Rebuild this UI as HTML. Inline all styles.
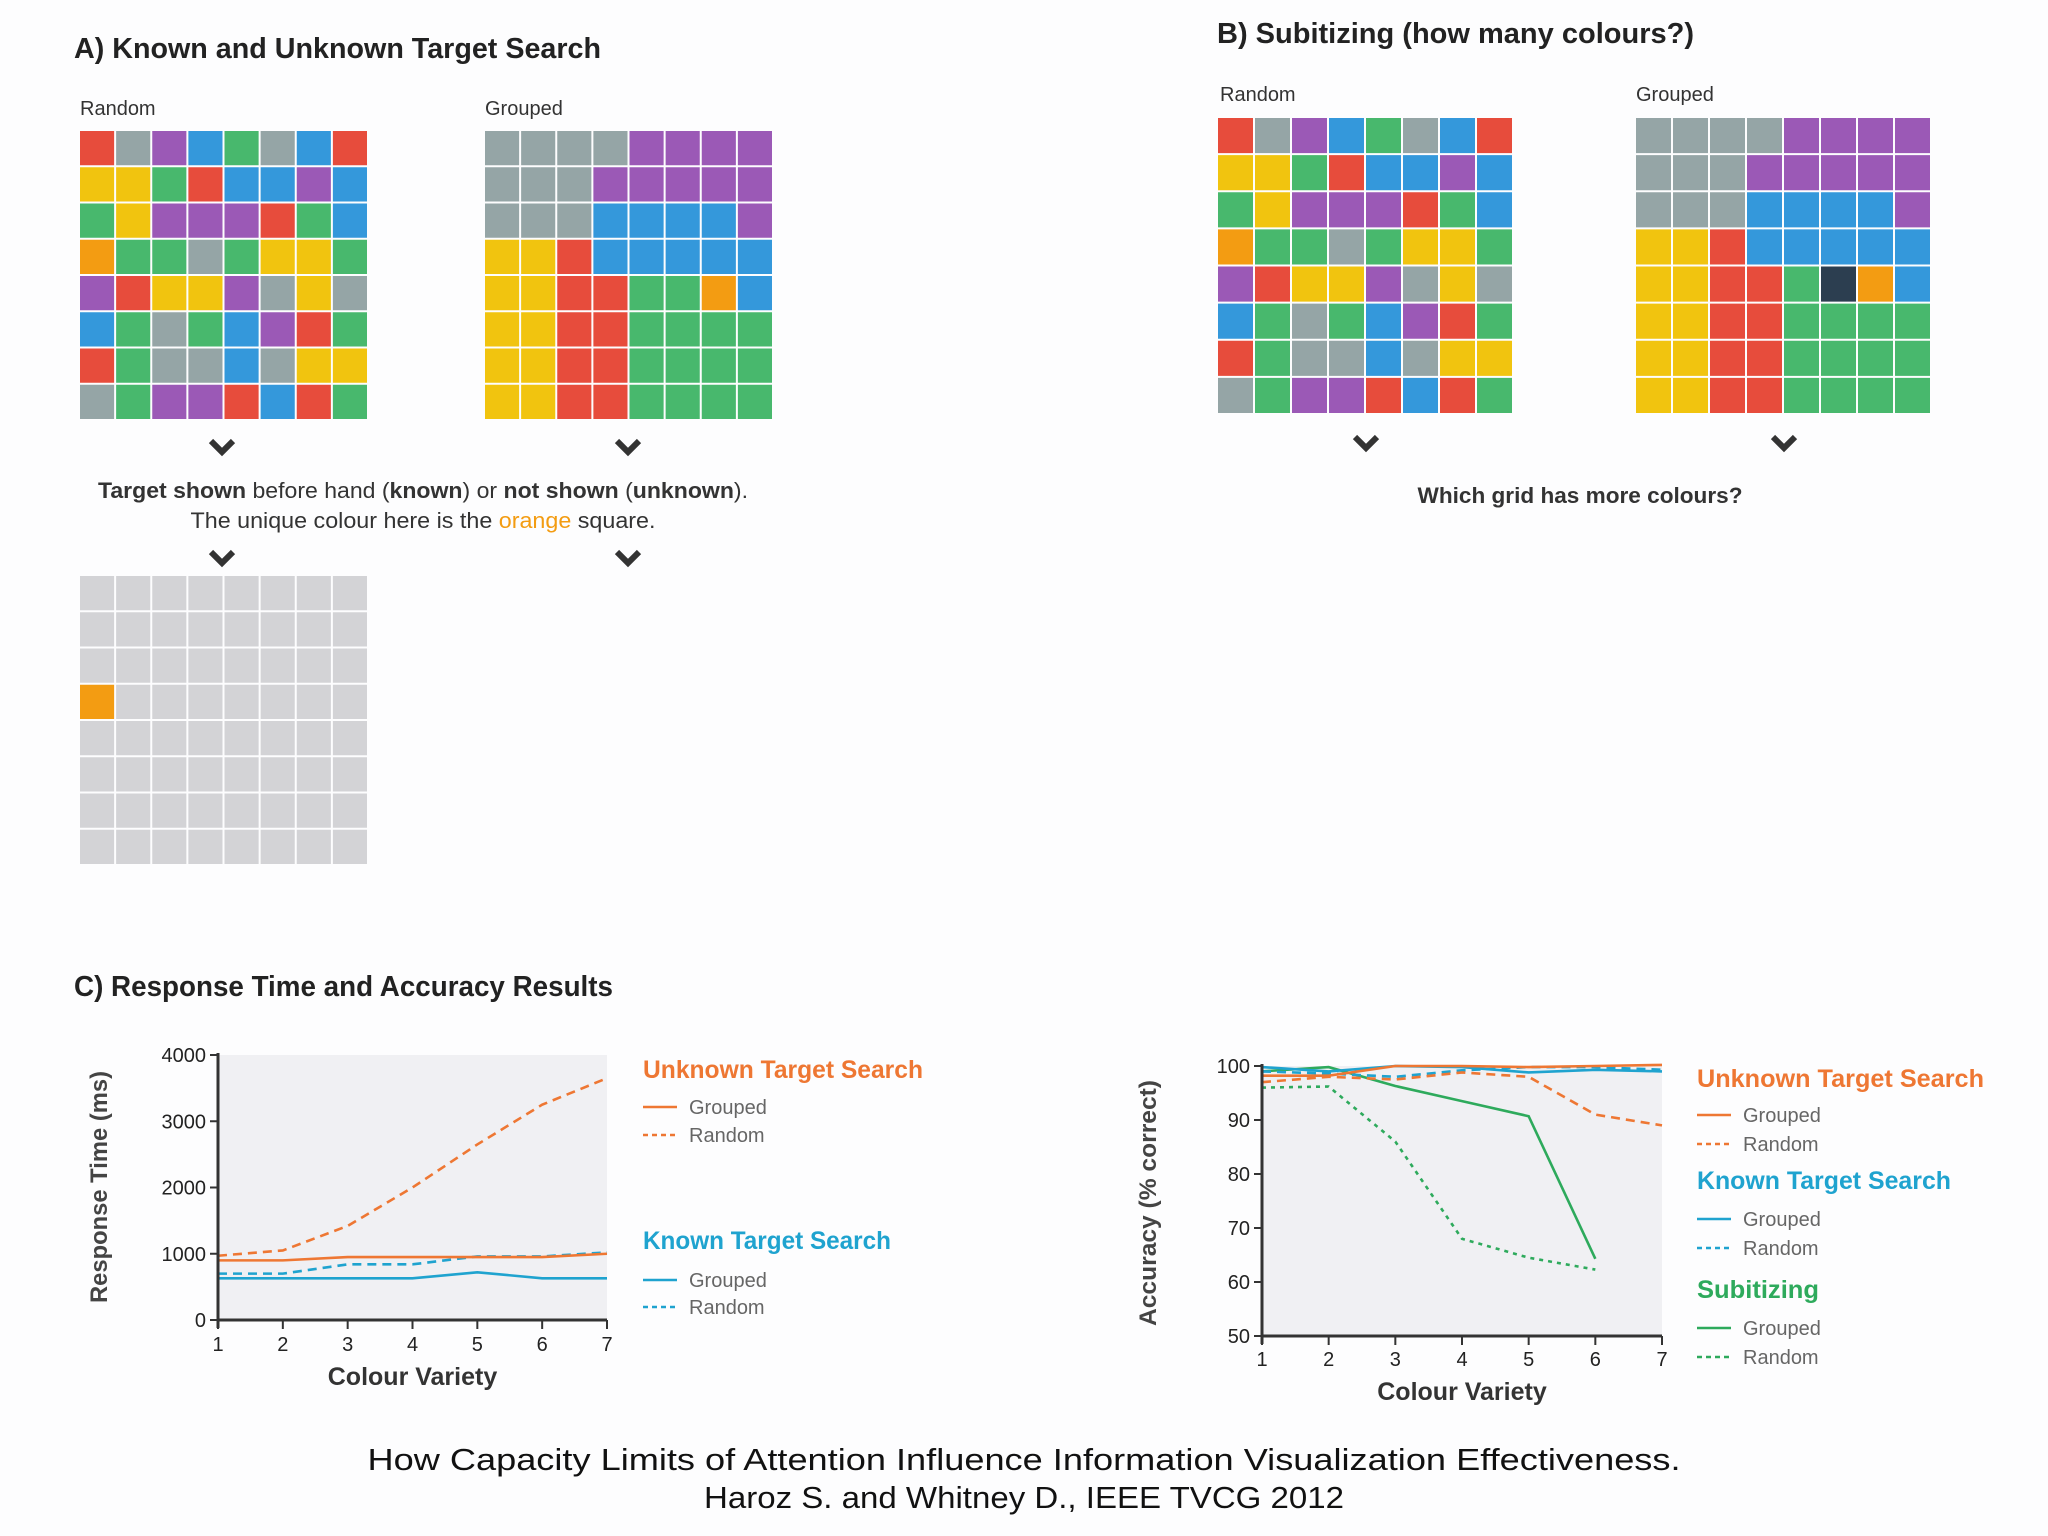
<!DOCTYPE html>
<html><head><meta charset="utf-8">
<style>
html,body{margin:0;padding:0;background:#fff;}
svg{display:block;font-family:"Liberation Sans",sans-serif;}
</style></head>
<body>
<svg id="root" width="2048" height="1536" viewBox="0 0 2048 1536" xmlns="http://www.w3.org/2000/svg">
<rect x="0" y="0" width="2048" height="1536" fill="#fdfdfe"/>
<text x="74" y="58" font-size="29" font-weight="bold" fill="#222" textLength="527" lengthAdjust="spacingAndGlyphs">A) Known and Unknown Target Search</text>
<text x="80" y="115" font-size="20" fill="#333">Random</text>
<text x="485" y="115" font-size="20" fill="#333">Grouped</text>
<g id="gridArand"></g>
<g id="gridAgrp"></g>
<g id="gridGray"></g>
<text x="423" y="498" font-size="22" fill="#333" text-anchor="middle" textLength="650" lengthAdjust="spacingAndGlyphs"><tspan font-weight="bold">Target shown</tspan> before hand (<tspan font-weight="bold">known</tspan>) or <tspan font-weight="bold">not shown</tspan> (<tspan font-weight="bold">unknown</tspan>).</text>
<text x="423" y="528" font-size="22" fill="#333" text-anchor="middle" textLength="465" lengthAdjust="spacingAndGlyphs">The unique colour here is the <tspan fill="#f39c12">orange</tspan> square.</text>
<text x="1217" y="43" font-size="29" font-weight="bold" fill="#222" textLength="477" lengthAdjust="spacingAndGlyphs">B) Subitizing (how many colours?)</text>
<text x="1220" y="101" font-size="20" fill="#333">Random</text>
<text x="1636" y="101" font-size="20" fill="#333">Grouped</text>
<g id="gridBrand"></g>
<g id="gridBgrp"></g>
<text x="1580" y="503" font-size="22" font-weight="bold" fill="#333" text-anchor="middle" textLength="325" lengthAdjust="spacingAndGlyphs">Which grid has more colours?</text>
<g id="chevrons"></g>
<text x="74" y="996" font-size="29" font-weight="bold" fill="#222" textLength="539" lengthAdjust="spacingAndGlyphs">C) Response Time and Accuracy Results</text>
<g id="chart1"></g>
<g id="chart2"></g>
<g id="legends"></g>
<text x="1024" y="1470" font-size="31" fill="#111" text-anchor="middle" textLength="1313" lengthAdjust="spacingAndGlyphs">How Capacity Limits of Attention Influence Information Visualization Effectiveness.</text>
<text x="1024" y="1508" font-size="31" fill="#111" text-anchor="middle" textLength="640" lengthAdjust="spacingAndGlyphs">Haroz S. and Whitney D., IEEE TVCG 2012</text>
</svg>
<script>
const NS="http://www.w3.org/2000/svg";
// ---- data ----
const gridRandom=["RGPBNGBR","YYNRBBPB","NYPPPRNB","ONNGNYYN","PRYYPGYG","BNGNBPRN","RNGGBGYY","GNPPRBRN"];
const gridGroupedA=["GGGGPPPP","GGGPPPPP","GGGBBBBP","YYRBBBBB","YYRRNNOB","YYRRNNNN","YYRRNNNN","YYRRNNNN"];
const gridGroupedB=["GGGGPPPP","GGGPPPPP","GGGBBBBP","YYRBBBBB","YYRRNDOB","YYRRNNNN","YYRRNNNN","YYRRNNNN"];
const gridGrayTarget=["LLLLLLLL","LLLLLLLL","LLLLLLLL","OLLLLLLL","LLLLLLLL","LLLLLLLL","LLLLLLLL","LLLLLLLL"];
const xCats=[1,2,3,4,5,6,7];
const rtTicks=[0,1000,2000,3000,4000];
const rtUnknownGrouped=[900,900,950,950,950,950,1000];
const rtUnknownRandom=[970,1050,1420,2000,2650,3250,3650];
const rtKnownGrouped=[630,630,630,630,720,630,630];
const rtKnownRandom=[700,700,840,840,960,960,1020];
const accTicks=[50,60,70,80,90,100];
const accUnknownGrouped=[98.2,98.2,100,100,99.8,100,100.2];
const accUnknownRandom=[97,98,97.5,98.8,98,91,89];
const accKnownGrouped=[99.8,99,100,99.8,98.8,99.3,99];
const accKnownRandom=[99,98.6,98,99.2,99.8,99.8,99.3];
const accSubGrouped=[99,99.8,96.3,93.5,90.7,64.3];
const accSubRandom=[96,96.2,86,68,64.5,62.3];
const COL={R:"#e74c3c",G:"#95a5a6",P:"#9b59b6",B:"#3498db",N:"#48b86d",Y:"#f1c40f",O:"#f39c12",D:"#2c3e50",L:"#d3d3d6"};
function el(t,a,p){const e=document.createElementNS(NS,t);for(const k in a)e.setAttribute(k,a[k]);(p||document.getElementById('root')).appendChild(e);return e;}
function grid(id,rows,x0,y0,w,h){const g=document.getElementById(id);const cw=w/8,ch=h/8;
 rows.forEach((r,i)=>{[...r].forEach((c,j)=>{const e=el('rect',{x:x0+j*cw,y:y0+i*ch,width:cw-2,height:ch-2,fill:COL[c]},g);
 
 });});}
grid('gridArand',gridRandom,80,131,289,290);
grid('gridAgrp',gridGroupedA,485,131,289,290);
grid('gridGray',gridGrayTarget,80,576,289,290);
grid('gridBrand',gridRandom,1218,118,296,297);
grid('gridBgrp',gridGroupedB,1636,118,296,297);
const chev=document.getElementById('chevrons');
[[222,447],[628,447],[222,558],[628,558],[1366,443],[1784,443]].forEach(p=>{const e=el('path',{d:`M${p[0]-11},${p[1]-6} L${p[0]},${p[1]+5} L${p[0]+11},${p[1]-6}`,fill:'none',stroke:'#333','stroke-width':6},chev);
 
 });

function chart(id,X0,X1,Y0,Y1,ymin,ymax,ticks,series,ytitle,ytitleLen,xlabY,xtitleY){
 const g=document.getElementById(id);
 const sx=v=>X0+(v-1)/6*(X1-X0), sy=v=>Y1-(v-ymin)/(ymax-ymin)*(Y1-Y0);
 const bg=el('rect',{x:X0,y:Y0,width:X1-X0,height:Y1-Y0,fill:'#f0f0f3'},g);
 
 
 series.forEach(s=>{const pts=s.v.map((v,i)=>sx(xCats[i])+','+sy(v)).join(' ');
  const a={points:pts,fill:'none',stroke:s.c,'stroke-width':2.6};if(s.d)a['stroke-dasharray']=s.d;
  const l=el('polyline',a,g);
  
  });
 el('line',{x1:X0,y1:Y0-2,x2:X0,y2:Y1+8,stroke:'#333','stroke-width':3},g);
 el('line',{x1:X0,y1:Y1,x2:X1,y2:Y1,stroke:'#333','stroke-width':3},g);
 ticks.forEach(t=>{el('line',{x1:X0-8,y1:sy(t),x2:X0,y2:sy(t),stroke:'#333','stroke-width':2},g);
  const tx=el('text',{x:X0-12,y:sy(t)+7,'font-size':20,'text-anchor':'end',fill:'#222'},g);tx.textContent=t;
  
  });
 xCats.forEach(c=>{el('line',{x1:sx(c),y1:Y1,x2:sx(c),y2:Y1+9,stroke:'#333','stroke-width':2},g);
  const tx=el('text',{x:sx(c),y:xlabY,'font-size':20,'text-anchor':'middle',fill:'#222'},g);tx.textContent=c;
  
  });
 const xt=el('text',{x:(X0+X1)/2,y:xtitleY,'font-size':25,'font-weight':'bold','text-anchor':'middle',fill:'#333'},g);xt.textContent='Colour Variety';
 
 
 return {sy};
}
chart('chart1',218,607,1055,1320,0,4000,rtTicks,[
 {v:rtKnownGrouped,c:'#1fa3cf',n:'line-known-grouped'},
 {v:rtKnownRandom,c:'#1fa3cf',d:'9,6',n:'line-known-random'},
 {v:rtUnknownGrouped,c:'#ee7733',n:'line-unknown-grouped'},
 {v:rtUnknownRandom,c:'#ee7733',d:'9,6',n:'line-unknown-random'}],'',0,1351,1385);
chart('chart2',1262,1662,1066,1336,50,100,accTicks,[
 {v:accSubRandom,c:'#2eaa5c',d:'4,5',n:'line-subitizing-random'},
 {v:accSubGrouped,c:'#2eaa5c',n:'line-subitizing-grouped'},
 {v:accKnownRandom,c:'#1fa3cf',d:'9,6',n:'line-known-random'},
 {v:accKnownGrouped,c:'#1fa3cf',n:'line-known-grouped'},
 {v:accUnknownRandom,c:'#ee7733',d:'9,6',n:'line-unknown-random'},
 {v:accUnknownGrouped,c:'#ee7733',n:'line-unknown-grouped'}],'',0,1366,1400);
const root=document.getElementById('root');
function yTitle(txt,x,y,len,name){const t=el('text',{x:x,y:y,'font-size':24,'font-weight':'bold',fill:'#444','text-anchor':'middle',transform:`rotate(-90 ${x} ${y})`,textLength:len,lengthAdjust:'spacingAndGlyphs'},root);t.textContent=txt;
 
 }
yTitle('Response Time (ms)',107,1187,232,'y-axis-title-response-time');
yTitle('Accuracy (% correct)',1156,1203,246,'y-axis-title-accuracy');
const lg=document.getElementById('legends');
function legTitle(txt,x,y,c,len){const t=el('text',{x:x,y:y,'font-size':25,'font-weight':'bold',fill:c,textLength:len,lengthAdjust:'spacingAndGlyphs'},lg);t.textContent=txt;
 
 }
function legEntry(txt,x,y,c,dash){const a={x1:x,y1:y-7,x2:x+34,y2:y-7,stroke:c,'stroke-width':2.6};if(dash)a['stroke-dasharray']=dash;el('line',a,lg);
 const t=el('text',{x:x+46,y:y,'font-size':20,fill:'#666'},lg);t.textContent=txt;
 
 }
legTitle('Unknown Target Search',643,1078,'#ee7733',280);
legEntry('Grouped',643,1114,'#ee7733');legEntry('Random',643,1142,'#ee7733','5,4');
legTitle('Known Target Search',643,1249,'#1fa3cf',248);
legEntry('Grouped',643,1287,'#1fa3cf');legEntry('Random',643,1314,'#1fa3cf','5,4');
legTitle('Unknown Target Search',1697,1087,'#ee7733',287);
legEntry('Grouped',1697,1122,'#ee7733');legEntry('Random',1697,1151,'#ee7733','5,4');
legTitle('Known Target Search',1697,1189,'#1fa3cf',254);
legEntry('Grouped',1697,1226,'#1fa3cf');legEntry('Random',1697,1255,'#1fa3cf','5,4');
legTitle('Subitizing',1697,1298,'#2eaa5c',122);
legEntry('Grouped',1697,1335,'#2eaa5c');legEntry('Random',1697,1364,'#2eaa5c','5,4');
</script>
</body></html>
